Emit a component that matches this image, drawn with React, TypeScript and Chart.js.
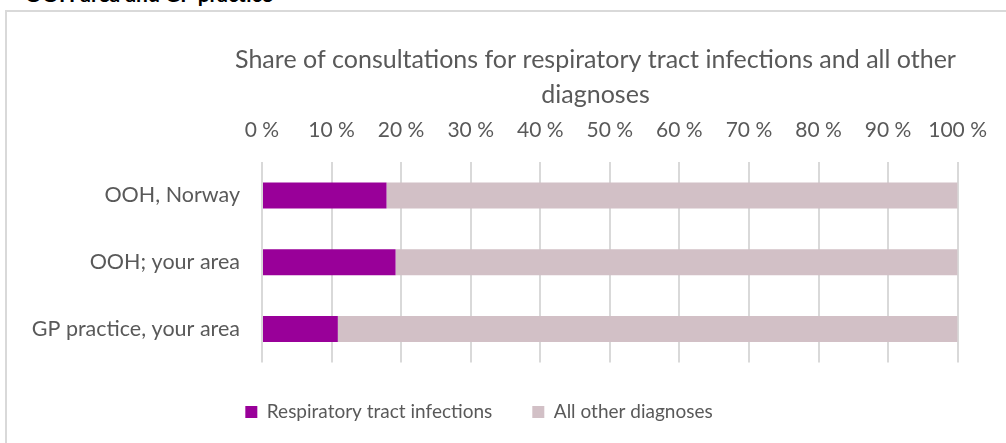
import React, { useEffect, useRef } from "react";
import { Chart, registerables } from "chart.js";

Chart.register(...registerables);

// ---- data ----
const categories: string[] = ["OOH, Norway", "OOH; your area", "GP practice, your area"];
const rtiShare: number[] = [17.9, 19.2, 10.9];
const otherShare: number[] = [82.1, 80.8, 89.1];
const seriesNames: string[] = ["Respiratory tract infections", "All other diagnoses"];
const titleLines: string[] = [
  "Share of consultations for respiratory tract infections and all other",
  "diagnoses",
];
const tickStep = 10;
const tickSuffix = " %";
const headingText = "OOH area and GP practice";

// ---- style ----
const FONT = "Lato, 'Open Sans', sans-serif";
const TEXT = "#595959";
const PURPLE = "#990099";
const PINK_GREY = "#D2C0C6";
const GRID = "#D9D9D9";
const TITLE_CENTER_X = 595.5 - 7; // in canvas coordinates
const LEGEND_CENTER_X = 479 - 7;

const shiftBlocks = {
  id: "shiftBlocks",
  afterLayout(chart: any) {
    const tb = chart.titleBlock;
    if (tb) {
      const d = TITLE_CENTER_X - (tb.left + tb.right) / 2;
      tb.left += d;
      tb.right += d;
    }
    const lg = chart.legend;
    if (lg) {
      const d = LEGEND_CENTER_X - (lg.left + lg.right) / 2;
      lg.left += d;
      lg.right += d;
    }
  },
};

export default function App() {
  const ref = useRef<HTMLCanvasElement | null>(null);

  useEffect(() => {
    if (!ref.current) return;
    const chart = new Chart(ref.current, {
      type: "bar",
      data: {
        labels: categories,
        datasets: [
          {
            label: seriesNames[0],
            data: rtiShare,
            backgroundColor: PURPLE,
            borderWidth: 0,
            categoryPercentage: 1,
            barPercentage: 0.39,
          },
          {
            label: seriesNames[1],
            data: otherShare,
            backgroundColor: PINK_GREY,
            borderWidth: 0,
            categoryPercentage: 1,
            barPercentage: 0.39,
          },
        ],
      },
      options: {
        indexAxis: "y",
        animation: false,
        responsive: true,
        maintainAspectRatio: false,
        layout: { padding: { left: 0, right: 48, top: 0, bottom: 11.5 } },
        plugins: {
          title: {
            display: true,
            text: titleLines,
            color: TEXT,
            font: { family: FONT, size: 25, weight: "normal", lineHeight: 35 / 25 },
            padding: { top: 30, bottom: 0 },
          },
          legend: {
            display: true,
            position: "bottom",
            labels: {
              boxWidth: 12,
              boxHeight: 12,
              padding: 40,
              color: TEXT,
              font: { family: FONT, size: 19 },
            },
          },
          tooltip: { enabled: false },
        },
        scales: {
          x: {
            position: "top",
            stacked: true,
            min: 0,
            max: 100,
            ticks: {
              stepSize: tickStep,
              color: TEXT,
              font: { family: FONT, size: 21 },
              padding: 19,
              maxRotation: 0,
              autoSkip: false,
              callback: (v: any) => `${v}${tickSuffix}`,
            },
            grid: { color: GRID, lineWidth: 2, drawTicks: false },
            border: { display: false },
            afterFit: (s: any) => {
              s.height = 50;
            },
          },
          y: {
            stacked: true,
            ticks: {
              color: TEXT,
              font: { family: FONT, size: 21.5 },
              padding: 22,
            },
            grid: { display: false, drawTicks: false },
            border: { display: false },
            afterFit: (s: any) => {
              s.width = 255;
            },
          },
        },
      },
      plugins: [shiftBlocks],
    });
    return () => chart.destroy();
  }, []);

  return (
    <div
      style={{
        position: "fixed",
        left: 0,
        top: 0,
        width: 1006,
        height: 443,
        overflow: "hidden",
        background: "#fff",
      }}
    >
      <div
        style={{
          position: "absolute",
          left: 25,
          top: -17,
          fontFamily: FONT,
          fontWeight: "bold",
          fontSize: 21,
          lineHeight: "21px",
          color: "#000",
          whiteSpace: "nowrap",
        }}
      >
        {headingText}
      </div>
      <div
        style={{
          position: "absolute",
          left: 5,
          top: 10,
          width: 1040,
          height: 480,
          borderLeft: `2px solid ${GRID}`,
          borderTop: `2px solid ${GRID}`,
        }}
      />
      <div style={{ position: "absolute", left: 7, top: 12, width: 999, height: 431 }}>
        <canvas ref={ref} />
      </div>
    </div>
  );
}
